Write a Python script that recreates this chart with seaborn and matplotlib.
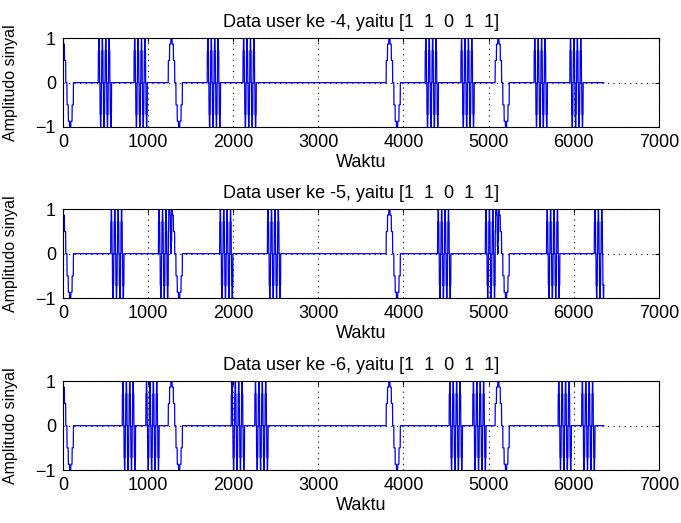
import numpy as np
import pandas as pd
import matplotlib
matplotlib.use("Agg")
import matplotlib.pyplot as plt
import seaborn as sns

# data
USERS = [4, 5, 6]
BITS = [1, 1, 0, 1, 1]
BIT_LEN = 1280          # samples per bit
SHIFT = 43              # slow pulse begins this many samples before each bit
# one cycle of the slow pulse, stair levels
SLOW_LEVELS = [0.5, 0.87, 1.0, 0.87, 0.5, 0.0,
               -0.5, -0.87, -1.0, -0.87, -0.5, 0.0]
# fast pulse (four cycles), stair levels
FAST_LEVELS = [0.71, 1.0, 0.71, 0.0, -0.71, -1.0, -0.71, 0.0] * 4
SLOW_HOLD = 15
FAST_HOLD = 5
# offsets of the two fast pulses inside each bit, per user
FAST_U4 = [458, 878]
FAST_U5 = [604, 1165]
FAST_U6 = [740, 1017]
XTICKS = [0, 1000, 2000, 3000, 4000, 5000, 6000, 7000]
YTICKS = [-1, 0, 1]


def place(y, start, levels, hold):
    for i, v in enumerate(levels):
        a = start + i * hold
        b = min(a + hold, len(y))
        if a < len(y):
            y[a:b] += v


def build(offsets):
    y = np.zeros(len(BITS) * BIT_LEN)
    for k, b in enumerate(BITS):
        if not b:
            continue
        g = k * BIT_LEN
        place(y, g, SLOW_LEVELS, SLOW_HOLD)
        for off in offsets:
            place(y, g + off, FAST_LEVELS, FAST_HOLD)
    x = np.arange(len(y)) - SHIFT
    return pd.DataFrame({"Waktu": x, "Amplitudo": np.clip(y, -1, 1)})


sns.set_style("white")
plt.rcParams["font.family"] = ["Liberation Sans", "DejaVu Sans"]
plt.rcParams["text.color"] = "black"
plt.rcParams["axes.labelcolor"] = "black"

fig = plt.figure(figsize=(6.81, 5.23), dpi=100)
bottoms = [0.7572, 0.4302, 0.1013]
bits_txt = "  ".join(str(b) for b in BITS)

for user, offs, bot in zip(USERS, [FAST_U4, FAST_U5, FAST_U6], bottoms):
    ax = fig.add_axes([0.0925, bot, 0.875, 0.1695])
    df = build(offs)
    sns.lineplot(data=df, x="Waktu", y="Amplitudo", ax=ax, color="#0000ee",
                 linewidth=0.9, estimator=None, sort=False)
    ax.set_xlim(0, 7000)
    ax.set_ylim(-1, 1)
    ax.set_xticks(XTICKS)
    ax.set_yticks(YTICKS)
    ax.grid(True, color="black", linestyle=(0, (1, 4)), linewidth=0.8)
    ax.set_axisbelow(True)
    for s in ax.spines.values():
        s.set_color("black")
        s.set_linewidth(0.8)
    ax.tick_params(direction="in", top=True, right=True, length=3,
                   labelsize=13, colors="black", pad=5)
    ax.set_title(f"Data user ke -{user}, yaitu [{bits_txt}]", fontsize=13, pad=8)
    ax.set_xlabel("Waktu", fontsize=13)
    ax.set_ylabel("Amplitudo sinyal", fontsize=11.5)
    ax.xaxis.set_label_coords(0.5, -0.3)
    ax.yaxis.set_label_coords(-0.075, 0.5)

fig.savefig("out.png", dpi=100, facecolor="white")
